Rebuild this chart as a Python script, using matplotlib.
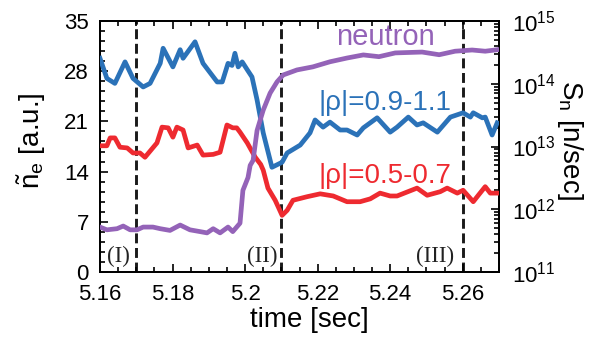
import matplotlib
matplotlib.use("Agg")
import matplotlib.pyplot as plt
from matplotlib.ticker import MultipleLocator, LogLocator, NullFormatter
import numpy as np

plt.rcParams['font.family'] = ['Liberation Sans', 'DejaVu Sans']
plt.rcParams['mathtext.fontset'] = 'custom'
plt.rcParams['mathtext.rm'] = 'Liberation Sans'
plt.rcParams['mathtext.it'] = 'Liberation Sans:italic'

# |rho| = 0.9-1.1 (blue)
blue_t = [5.1600, 5.1619, 5.1641, 5.1669, 5.1691, 5.1719, 5.1738, 5.1766, 5.1774, 5.1801,
          5.1821, 5.1829, 5.1862, 5.1884, 5.1923, 5.1937, 5.1953, 5.1964, 5.1972, 5.1981,
          5.1992, 5.2006, 5.2019, 5.2033, 5.2050, 5.2074, 5.2102, 5.2116, 5.2152, 5.2179,
          5.2193, 5.2215, 5.2234, 5.2262, 5.2281, 5.2309, 5.2326, 5.2364, 5.2400, 5.2419,
          5.2450, 5.2474, 5.2491, 5.2530, 5.2566, 5.2601, 5.2621, 5.2629, 5.2654, 5.2662,
          5.2681, 5.2695]
blue_v = [29.8, 27.0, 26.3, 29.3, 27.0, 25.8, 26.3, 29.1, 31.2, 28.6,
          31.0, 29.8, 32.1, 29.1, 26.5, 26.5, 29.1, 28.8, 30.5, 28.6,
          29.3, 28.2, 27.2, 24.0, 19.4, 14.6, 15.3, 16.6, 17.7, 19.4,
          21.2, 20.2, 20.9, 19.8, 19.8, 19.1, 20.1, 21.5, 19.5, 20.2,
          21.6, 20.5, 20.8, 19.5, 21.6, 22.2, 21.6, 22.2, 21.5, 21.6,
          19.1, 20.8]

# |rho| = 0.5-0.7 (red)
red_t = [5.1600, 5.1619, 5.1628, 5.1641, 5.1655, 5.1675, 5.1691, 5.1710, 5.1724, 5.1757,
         5.1771, 5.1788, 5.1801, 5.1812, 5.1829, 5.1843, 5.1868, 5.1884, 5.1912, 5.1931,
         5.1950, 5.1966, 5.1977, 5.1986, 5.2006, 5.2028, 5.2043, 5.2050, 5.2063, 5.2083,
         5.2102, 5.2116, 5.2132, 5.2171, 5.2207, 5.2243, 5.2281, 5.2317, 5.2345, 5.2372,
         5.2400, 5.2419, 5.2474, 5.2502, 5.2538, 5.2557, 5.2585, 5.2601, 5.2629, 5.2643,
         5.2662, 5.2676, 5.2698]
red_v = [17.6, 17.6, 18.7, 18.7, 17.4, 17.3, 16.6, 16.6, 16.0, 18.0,
         20.2, 20.1, 18.8, 20.2, 19.8, 17.3, 17.7, 16.3, 16.4, 16.7,
         20.5, 20.1, 20.1, 19.5, 18.0, 16.0, 15.0, 14.2, 11.7, 10.0,
         7.9, 8.6, 10.0, 10.5, 10.9, 10.6, 9.8, 9.8, 10.2, 11.0,
         10.6, 10.6, 11.7, 10.7, 11.2, 11.7, 11.0, 11.4, 9.8, 10.7,
         11.9, 11.0, 11.0]

# neutron emission rate S_n [n/sec] (purple)
neut_t = [5.1600, 5.1619, 5.1647, 5.1664, 5.1683, 5.1702, 5.1719, 5.1746, 5.1766, 5.1793,
          5.1821, 5.1848, 5.1876, 5.1895, 5.1912, 5.1931, 5.1953, 5.1966, 5.1986, 5.1994,
          5.2008, 5.2014, 5.2022, 5.2033, 5.2050, 5.2069, 5.2088, 5.2105, 5.2143, 5.2187,
          5.2234, 5.2281, 5.2326, 5.2369, 5.2414, 5.2488, 5.2535, 5.2579, 5.2626, 5.2662,
          5.2698]
neut_v = [5.2e11, 4.7e11, 4.9e11, 5.4e11, 4.7e11, 4.7e11, 5.2e11, 5.2e11, 4.9e11, 4.6e11,
          5.6e11, 4.7e11, 4.4e11, 4.2e11, 4.9e11, 4.2e11, 5.2e11, 4.4e11, 6.0e11, 2.0e12,
          3.2e12, 5.0e12, 6.0e12, 1.8e13, 3.8e13, 7.1e13, 1.07e14, 1.38e14, 1.66e14, 1.86e14,
          2.24e14, 2.57e14, 2.88e14, 2.7e14, 3.1e14, 3.2e14, 2.9e14, 3.3e14, 3.45e14, 3.3e14,
          3.5e14]

vlines_t = [5.17, 5.21, 5.26]
phase_labels = ['(I)', '(II)', '(III)']
phase_label_t = [5.1652, 5.2047, 5.2524]

c_blue = '#2b72b8'
c_red = '#ee2a30'
c_purple = '#9463b8'

W, H = 598, 338
fig = plt.figure(figsize=(W/100, H/100), dpi=100)
ax = fig.add_axes([100/W, 1-272/H, 399/W, 251/H])
ax2 = ax.twinx()

ax.set_zorder(ax2.get_zorder() + 1)
ax.patch.set_visible(False)

for t in vlines_t:
    ax.axvline(t, color='#1a1a1a', lw=2.1, dashes=(3.4, 1.6), zorder=1)

ax.plot(red_t, red_v, color=c_red, lw=3.4, solid_joinstyle='round', zorder=3)
ax.plot(blue_t, blue_v, color=c_blue, lw=3.4, solid_joinstyle='round', zorder=3)

# neutron on the log axis, drawn into ax so it lies on top
ax2.set_yscale('log')
ax2.set_ylim(1e11, 1e15)
ln, = ax2.plot(neut_t, neut_v, color=c_purple, lw=3.4, solid_joinstyle='round')
ln.remove()
ln.set_transform(ax2.transData)
ax.add_artist(ln)
ln.set_zorder(4)

ax.set_xlim(5.16, 5.27)
ax.set_ylim(0, 35)
ax.xaxis.set_minor_locator(MultipleLocator(0.005))
ax.yaxis.set_major_locator(MultipleLocator(7))
ax.yaxis.set_minor_locator(MultipleLocator(1.4))
ax.set_xticks([5.16, 5.18, 5.20, 5.22, 5.24, 5.26])
ax.set_xticklabels(['5.16', '5.18', '5.2', '5.22', '5.24', '5.26'])

ax.tick_params(axis='both', which='both', direction='in', labelsize=16, width=1.2)
ax.tick_params(axis='x', which='both', top=True)
ax.tick_params(which='major', length=6)
ax.tick_params(which='minor', length=3.5)
ax.tick_params(axis='x', pad=9)
ax.tick_params(axis='y', pad=8)

ax2.yaxis.set_major_locator(LogLocator(base=10, numticks=10))
ax2.yaxis.set_minor_locator(LogLocator(base=10, subs=np.arange(2, 10), numticks=20))
ax2.yaxis.set_minor_formatter(NullFormatter())
ax2.tick_params(axis='y', which='both', direction='in', labelsize=16, width=1.2, pad=9)
ax2.tick_params(which='major', length=6)
ax2.tick_params(which='minor', length=3.5)

for a in (ax, ax2):
    for s in a.spines.values():
        s.set_linewidth(1.3)

# axis titles placed at their measured centres
fig.text(309/W, 1-320/H, 'time [sec]', fontsize=20, ha='center', va='center')
fig.text(32/W, 1-141/H, r'$\tilde{\mathrm{n}}_\mathrm{e}$ [a.u.]', fontsize=20,
         rotation=90, ha='center', va='center')
fig.text(570/W, 1-140/H, r'S$_\mathrm{n}$ [n/sec]', fontsize=20,
         rotation=-90, ha='center', va='center')

ax.text(5.2386, 31.7, 'neutron', color=c_purple, fontsize=21, ha='center', va='baseline')
ax.text(5.2386, 22.6, '|ρ|=0.9-1.1', color=c_blue, fontsize=20, ha='center', va='baseline',
        family=['Liberation Sans', 'DejaVu Sans'])
ax.text(5.2386, 12.4, '|ρ|=0.5-0.7', color=c_red, fontsize=20, ha='center', va='baseline',
        family=['Liberation Sans', 'DejaVu Sans'])

for lab, t in zip(phase_labels, phase_label_t):
    ax.text(t, 2.1, lab, fontsize=16.5, family='Liberation Serif', ha='center', va='center',
            color='#222222')

fig.savefig('out.png', dpi=100)
